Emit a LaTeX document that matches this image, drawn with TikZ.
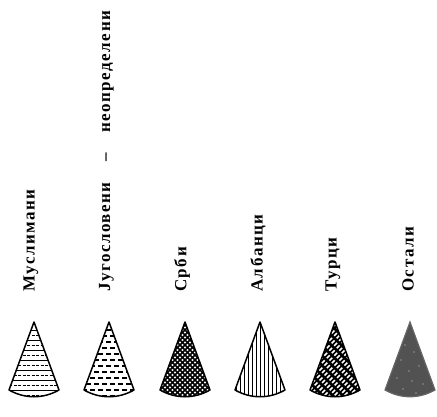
\documentclass[tikz,border=0pt]{standalone}
\usepackage{fontspec}
\newfontfamily\lblfont[LetterSpace=9]{Liberation Serif}
\usetikzlibrary{positioning}

\newcommand{\conepath}[1]{(#1,322) -- (#1-25,390)
  .. controls (#1-9,399) and (#1+9,399) .. (#1+25,390) -- cycle}

\begin{document}
\begin{tikzpicture}[x=1pt, y=-1pt,
      lbl/.style={rotate=90, anchor=west, inner sep=0pt,
                  font=\lblfont\bfseries\fontsize{17}{19}\selectfont},
      cone/.style={draw=black, line width=1.5pt, line join=round},
      hatch/.style={black, line width=0.8pt},
    ]
    \useasboundingbox (0,0) rectangle (437,416);

    %% labels (read bottom to top)
    \node[lbl] (l1) at (31,292) {Муслимани};
    \node[lbl] (l2) at (106.5,292) {Југословени\hspace{1.2em}–\hspace{1.2em}неопределени};
    \node[lbl] (l3) at (182,292) {Срби};
    \node[lbl] (l4) at (258,292) {Албанци};
    \node[lbl] (l5) at (333,292) {Турци};
    \node[lbl] (l6) at (408,292) {Остали};

    %% cone 1: horizontal lines
    \begin{scope}
      \clip \conepath{34};
      \foreach \y in {330,340,...,400}
        \draw[hatch] (0,\y) -- (437,\y);
      \foreach \y in {335,345,...,400}
        \draw[hatch, dash pattern=on 3pt off 1.5pt] (0,\y) -- (437,\y);
    \end{scope}
    \draw[cone] \conepath{34};

    %% cone 2: brick dashes
    \begin{scope}
      \clip \conepath{109};
      \foreach \y [count=\i] in {330,336,...,400}
        \draw[hatch, line width=1.1pt, dash pattern=on 4.5pt off 3.5pt,
              dash phase={mod(\i,2)*4pt}] (70,\y) -- (150,\y);
    \end{scope}
    \draw[cone] \conepath{109};

    %% cone 3: cross hatch
    \begin{scope}
      \clip \conepath{185};
      \foreach \d in {-80,-75,...,80} {
        \draw[hatch, line width=1.6pt] (185+\d-60,300) -- (185+\d+60,420);
        \draw[hatch, line width=1.6pt] (185+\d+60,300) -- (185+\d-60,420);
      }
    \end{scope}
    \draw[cone] \conepath{185};

    %% cone 4: vertical lines
    \begin{scope}
      \clip \conepath{260};
      \foreach \x in {-24,-20,...,24}
        \draw[hatch] (260+\x,300) -- (260+\x,420);
    \end{scope}
    \draw[cone] \conepath{260};

    %% cone 5: black with white slashes
    \begin{scope}
      \clip \conepath{335};
      \fill[black] (300,300) rectangle (370,420);
      \foreach \d [count=\i] in {-80,-75,...,80}
        \draw[white, line width=1.5pt, dash pattern=on 4pt off 3pt,
              dash phase={mod(\i,2)*3.5pt}] (335+\d-60,420) -- (335+\d+60,300);
    \end{scope}
    \draw[cone] \conepath{335};

    %% cone 6: dark grey
    \fill[black!68, draw=black!60, line width=1.2pt] \conepath{410};
    \begin{scope}
      \clip \conepath{410};
      \foreach \px/\py in {405/345, 414/352, 401/360, 419/366, 409/371,
                           397/378, 412/381, 423/384, 403/389, 416/393}
        \fill[white!85!black] (\px,\py) circle (0.7pt);
    \end{scope}
\end{tikzpicture}
\end{document}
